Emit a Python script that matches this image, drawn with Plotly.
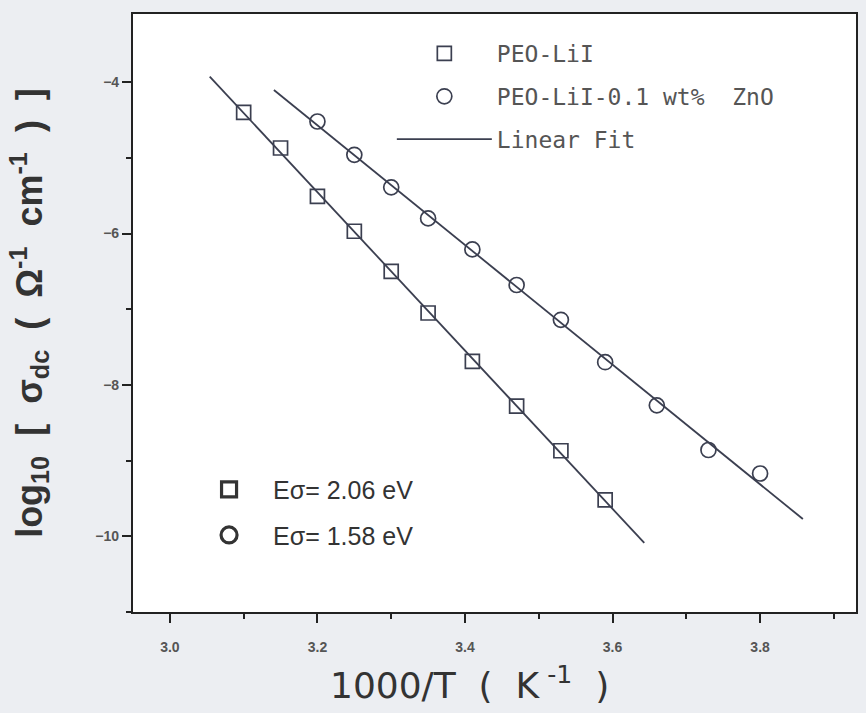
import numpy as np
import plotly.graph_objects as go

# Data
x_lii = [3.10, 3.15, 3.20, 3.25, 3.30, 3.35, 3.41, 3.47, 3.53, 3.59]
y_lii = [-4.40, -4.87, -5.51, -5.97, -6.50, -7.05, -7.69, -8.28, -8.87, -9.52]

x_zno = [3.20, 3.25, 3.30, 3.35, 3.41, 3.47, 3.53, 3.59, 3.66, 3.73, 3.80]
y_zno = [-4.52, -4.96, -5.39, -5.80, -6.21, -6.68, -7.14, -7.70, -8.27, -8.86, -9.17]

fit_span_lii = [3.054, 3.643]
fit_span_zno = [3.141, 3.858]

series_names = ["PEO-LiI", "PEO-LiI-0.1 wt%  ZnO", "Linear Fit"]
energy_labels = ["Eσ= 2.06 eV", "Eσ= 1.58 eV"]
x_title = "1000/T  (  K<sup> -1</sup>  )"
y_title = "log<sub>10</sub>  [  σ<sub>dc</sub>  (  Ω<sup>-1</sup>  cm<sup>-1</sup>  )  ]"

INK = "#3b3f50"

def fit_line(xs, ys, span):
    k, b = np.polyfit(xs, ys, 1)
    xx = np.array(span)
    return xx, k * xx + b

fig = go.Figure()

fx1, fy1 = fit_line(x_lii, y_lii, fit_span_lii)
fx2, fy2 = fit_line(x_zno, y_zno, fit_span_zno)

fig.add_trace(go.Scatter(x=fx1, y=fy1, mode="lines", line=dict(color=INK, width=1.8),
                         name=series_names[2], legendgroup="c", legendrank=3))
fig.add_trace(go.Scatter(x=fx2, y=fy2, mode="lines", line=dict(color=INK, width=1.8),
                         showlegend=False, legendgroup="c"))

fig.add_trace(go.Scatter(x=x_lii, y=y_lii, mode="markers", name=series_names[0],
                         legendgroup="a", legendrank=1,
                         marker=dict(symbol="square-open", size=14, color=INK,
                                     line=dict(width=1.7, color=INK))))
fig.add_trace(go.Scatter(x=x_zno, y=y_zno, mode="markers", name=series_names[1],
                         legendgroup="b", legendrank=2,
                         marker=dict(symbol="circle-open", size=15, color=INK,
                                     line=dict(width=1.7, color=INK))))

# second legend: activation energies
fig.add_trace(go.Scatter(x=[None], y=[None], mode="markers", name=energy_labels[0],
                         legend="legend2", legendgroup="e1",
                         marker=dict(symbol="square-open", size=15, color="#333",
                                     line=dict(width=3.2, color="#333"))))
fig.add_trace(go.Scatter(x=[None], y=[None], mode="markers", name=energy_labels[1],
                         legend="legend2", legendgroup="e2",
                         marker=dict(symbol="circle-open", size=16, color="#333",
                                     line=dict(width=3.2, color="#333"))))

axis_common = dict(showline=True, linecolor="#222", linewidth=2.2, mirror=True,
                   ticks="outside", ticklen=9, tickwidth=2, tickcolor="#222",
                   showgrid=False, zeroline=False)

tickfont = dict(family="Liberation Sans", size=14, color="#555", weight="bold")

fig.update_xaxes(**axis_common, range=[2.95, 3.93], tick0=3.0, dtick=0.2,
                 tickformat=".1f", tickfont=tickfont, ticklabelstandoff=12,
                 minor=dict(ticks="outside", ticklen=5, tickwidth=2, tickcolor="#222", dtick=0.1))
fig.update_yaxes(**axis_common, range=[-11, -3.1], tick0=-4, dtick=2,
                 tickfont=tickfont,
                 minor=dict(ticks="outside", ticklen=5, tickwidth=2, tickcolor="#222", dtick=1),
                 title=dict(text=y_title,
                            font=dict(family="Liberation Sans", size=36, color="#333", weight="bold"),
                            standoff=42))

# x-axis title placed as text below the axis (centred slightly left of the plot centre)
fig.add_annotation(text=x_title, xref="paper", yref="paper", x=0.465, y=-0.118,
                   xanchor="center", yanchor="middle", showarrow=False,
                   font=dict(family="DejaVu Sans", size=36, color="#333"))

fig.update_layout(
    width=866, height=713,
    margin=dict(l=133, r=8, t=14, b=101),
    paper_bgcolor="#eceef2", plot_bgcolor="white",
    legend=dict(x=0.358, y=0.97, xanchor="left", yanchor="top",
                bgcolor="rgba(0,0,0,0)", tracegroupgap=10, itemwidth=95,
                font=dict(family="DejaVu Sans Mono", size=23, color="#555")),
    legend2=dict(x=0.072, y=0.243, xanchor="left", yanchor="top",
                 bgcolor="rgba(0,0,0,0)", tracegroupgap=10, itemwidth=78,
                 font=dict(family="Liberation Sans", size=25, color="#333")),
)

fig.write_html("out.html")
